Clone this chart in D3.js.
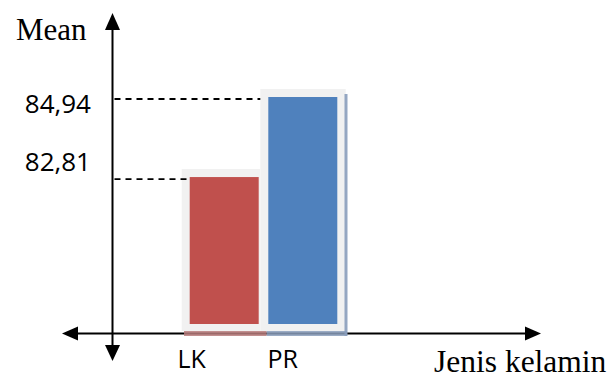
<!DOCTYPE html>
<html>
<head>
<meta charset="utf-8">
<script src="https://cdn.jsdelivr.net/npm/d3@7"></script>
<style>
  html, body { margin: 0; padding: 0; background: #ffffff; }
  svg { display: block; }
</style>
</head>
<body>
<svg id="chart" width="611" height="377"></svg>
<script>
// Mean score by gender
const categories = ["LK", "PR"];
const means = [82.81, 84.94];
const meanLabels = ["82,81", "84,94"];
const barColors = ["#c0504d", "#4f81bd"];
const stripColors = ["#b77b7b", "#8a9dbb"];

const svg = d3.select("#chart");

// Axis geometry
const axisX = 112.5;
const axisY = 333.5;

// Broken value scale: the bars start from a floor just under the smaller mean
const y = d3.scaleLinear().domain([78.9, 84.94]).range([324, 97]);

// Band scale for the two bars
const x = d3.scaleBand().domain(categories).range([189.7, 346.9]).paddingInner(0).paddingOuter(0);
const barW = 69;
const inset = 8;
const frameRightPad = [1.3, 8.4];

// Grey frames behind bars
svg.selectAll("rect.frame")
  .data(categories)
  .enter().append("rect")
  .attr("class", "frame")
  .attr("x", d => x(d) - inset)
  .attr("width", (d, i) => inset + barW + frameRightPad[i])
  .attr("y", (d, i) => y(means[i]) - inset)
  .attr("height", (d, i) => 331 - (y(means[i]) - inset))
  .attr("fill", "#f1f1f1");

// Bars
svg.selectAll("rect.bar")
  .data(categories)
  .enter().append("rect")
  .attr("class", "bar")
  .attr("x", d => x(d))
  .attr("width", barW)
  .attr("y", (d, i) => y(means[i]))
  .attr("height", (d, i) => y.range()[0] - y(means[i]))
  .attr("fill", (d, i) => barColors[i]);

// Axes lines
const axisG = svg.append("g").attr("stroke", "#000").attr("stroke-width", 2);
axisG.append("line").attr("x1", axisX).attr("x2", axisX).attr("y1", 26).attr("y2", 348);
axisG.append("line").attr("x1", 75).attr("x2", 528).attr("y1", axisY).attr("y2", axisY);

// Side strips along the baseline and right edge
const stripX = [184, 266.7, 347];
svg.selectAll("rect.strip")
  .data(categories)
  .enter().append("rect")
  .attr("class", "strip")
  .attr("x", (d, i) => stripX[i])
  .attr("width", (d, i) => stripX[i + 1] - stripX[i])
  .attr("y", 331)
  .attr("height", 5)
  .attr("fill", (d, i) => stripColors[i])
  .attr("opacity", 0.85);
svg.append("rect")
  .attr("x", 344.5).attr("width", 3)
  .attr("y", y(means[1]) - 3).attr("height", 336 - (y(means[1]) - 3))
  .attr("fill", stripColors[1]).attr("opacity", 0.9);

// Arrowheads
const heads = [
  [[112.5, 13], [105, 30], [120, 30]],
  [[112.5, 361], [105, 345], [120, 345]],
  [[62, axisY], [78, axisY - 7], [78, axisY + 7]],
  [[541, axisY], [525, axisY - 7], [525, axisY + 7]]
];
svg.selectAll("path.head")
  .data(heads)
  .enter().append("path")
  .attr("class", "head")
  .attr("d", d => "M" + d.join("L") + "Z")
  .attr("fill", "#000");

// Dashed guides to the value labels
svg.selectAll("line.guide")
  .data(categories)
  .enter().append("line")
  .attr("class", "guide")
  .attr("x1", axisX + 2)
  .attr("x2", (d, i) => x(d) - (i === 0 ? 2 : 8))
  .attr("y1", (d, i) => y(means[i]) + 2)
  .attr("y2", (d, i) => y(means[i]) + 2)
  .attr("stroke", "#000")
  .attr("stroke-width", 1.8)
  .attr("stroke-dasharray", "6,5");

// Value labels
svg.selectAll("text.val")
  .data(meanLabels)
  .enter().append("text")
  .attr("class", "val")
  .attr("x", 91)
  .attr("y", (d, i) => i === 0 ? 171 : 112.5)
  .attr("text-anchor", "end")
  .attr("font-family", "'Open Sans', sans-serif")
  .attr("font-size", 26)
  .attr("fill", "#000")
  .text(d => d);

// Category labels
svg.selectAll("text.cat")
  .data(categories)
  .enter().append("text")
  .attr("class", "cat")
  .attr("x", (d, i) => i === 0 ? 177.5 : 267.5)
  .attr("y", 367.5)
  .attr("font-family", "'Open Sans', sans-serif")
  .attr("font-size", 25)
  .attr("fill", "#000")
  .text(d => d);

// Axis titles
svg.append("text")
  .attr("x", 16).attr("y", 40)
  .attr("font-family", "'Liberation Serif', 'Times New Roman', serif")
  .attr("font-size", 31)
  .text("Mean");
svg.append("text")
  .attr("x", 434).attr("y", 371.5)
  .attr("font-family", "'Liberation Serif', 'Times New Roman', serif")
  .attr("font-size", 31.5)
  .text("Jenis kelamin");
</script>
</body>
</html>
